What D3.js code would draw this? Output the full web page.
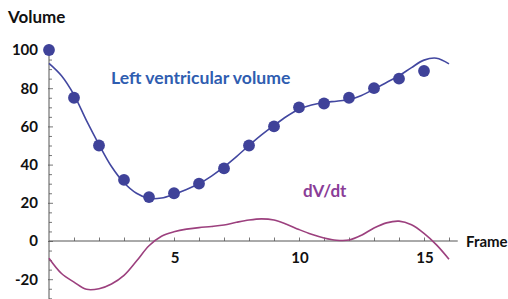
<!DOCTYPE html>
<html><head><meta charset="utf-8">
<script src="https://cdn.jsdelivr.net/npm/d3@7"></script>
<style>
html,body{margin:0;padding:0;background:#fff;}
svg{display:block;}
text{font-family:Lato,"Open Sans",sans-serif;}
</style></head>
<body>
<script>
// measured volume per frame (dots)
const frames = [0,1,2,3,4,5,6,7,8,9,10,11,12,13,14,15];
const volume = [100,75,50,32,23,25,30,38,50,60,70,72,75,80,85,89];
// fitted volume curve samples (frame, value)
const fitFrames = [0,0.5,1,1.5,2,2.5,3,3.5,4,4.5,5,5.5,6,6.5,7,7.5,8,8.5,9,9.5,10,10.5,11,11.5,12,12.5,13,13.5,14,14.5,15,15.5,16];
const fitVolume = [93,86.5,76.5,63,50.5,39,30.5,25,22.3,22.5,24.5,27,30,34,38.8,44.2,50,55.5,60.5,65.2,69,71.2,72.5,73.2,74,76.2,79.5,83,86.5,90.8,94.7,95.7,92.7];
// derivative curve samples
const dvdt = [-9,-17,-21.5,-25.3,-25,-22.5,-18,-10.5,-2.5,2.5,4.8,6.2,7,7.6,8.4,9.8,11,11.6,11,8.8,6,3.5,1.6,0.4,0.5,3,6.8,9.5,10.4,8.5,4,-2,-9.5];
const yTicks = [-20,0,20,40,60,80,100];
const xTicks = [5,10,15];

const W = 508, H = 299;
const svg = d3.select("body").append("svg").attr("width", W).attr("height", H);

const x = d3.scaleLinear().domain([0,16]).range([49,449]);
const y = d3.scaleLinear().domain([0,100]).range([241,50]);

const axisColor = "#555";
// y axis
const yAxis = d3.axisRight(y)
  .tickValues(d3.range(-30,105,5))
  .tickSize(3).tickFormat("");
const gy = svg.append("g").attr("transform",`translate(${x(0)},0)`).call(yAxis);
gy.select(".domain").remove();
gy.selectAll(".tick line").attr("stroke",axisColor).attr("stroke-width",0.8)
  .attr("x1",d => yTicks.includes(d) ? -1 : 0)
  .attr("x2",d => yTicks.includes(d) ? 4 : 3);
svg.append("line").attr("x1",x(0)).attr("x2",x(0)).attr("y1",y(103)).attr("y2",H)
  .attr("stroke",axisColor).attr("stroke-width",1);
svg.append("g").selectAll("text").data(yTicks).join("text")
  .attr("x",38).attr("y",d=>y(d)).attr("dy","0.36em").attr("text-anchor","end")
  .attr("font-size",15).attr("font-weight","bold").attr("fill","#111")
  .text(d=>d);

// x axis
const xAxis = d3.axisTop(x).tickValues(d3.range(1,17)).tickSize(3.5).tickFormat("");
const gx = svg.append("g").attr("transform",`translate(0,${y(0)})`).call(xAxis);
gx.select(".domain").remove();
gx.selectAll(".tick line").attr("stroke",axisColor).attr("stroke-width",0.8);
svg.append("line").attr("x1",x(0)).attr("x2",x(16.35)).attr("y1",y(0)).attr("y2",y(0))
  .attr("stroke",axisColor).attr("stroke-width",1);
svg.append("g").selectAll("text").data(xTicks).join("text")
  .attr("x",d=>x(d)+1).attr("y",y(0)+22).attr("text-anchor","middle")
  .attr("font-size",15).attr("font-weight","bold").attr("fill","#111")
  .text(d=>d);

// labels
svg.append("text").attr("x",8).attr("y",23).attr("font-size",17).attr("font-weight","bold").attr("fill","#111").text("Volume");
svg.append("text").attr("x",466).attr("y",y(0)+6).attr("font-size",15).attr("font-weight","bold").attr("fill","#111").text("Frame");
svg.append("text").attr("x",111).attr("y",84).attr("font-size",17.6).attr("font-weight","bold").attr("fill","#2f5db0").text("Left ventricular volume");
svg.append("text").attr("x",303).attr("y",197).attr("font-size",17).attr("font-weight","bold").attr("fill","#8a3d97").text("dV/dt");

// derivative curve
const line = d3.line().curve(d3.curveCatmullRom.alpha(0.5));
svg.append("path")
  .attr("d", line(fitFrames.map((f,i)=>[x(f), y(dvdt[i])])))
  .attr("fill","none").attr("stroke","#9c407e").attr("stroke-width",1.6);

// fitted volume curve
svg.append("path")
  .attr("d", line(fitFrames.map((f,i)=>[x(f), y(fitVolume[i])])))
  .attr("fill","none").attr("stroke","#4247a0").attr("stroke-width",1.6);

// dots
svg.append("g").selectAll("circle").data(frames).join("circle")
  .attr("cx",d=>x(d)).attr("cy",(d,i)=>y(volume[i])).attr("r",5.9)
  .attr("fill","#3f4299");
</script>
</body></html>
